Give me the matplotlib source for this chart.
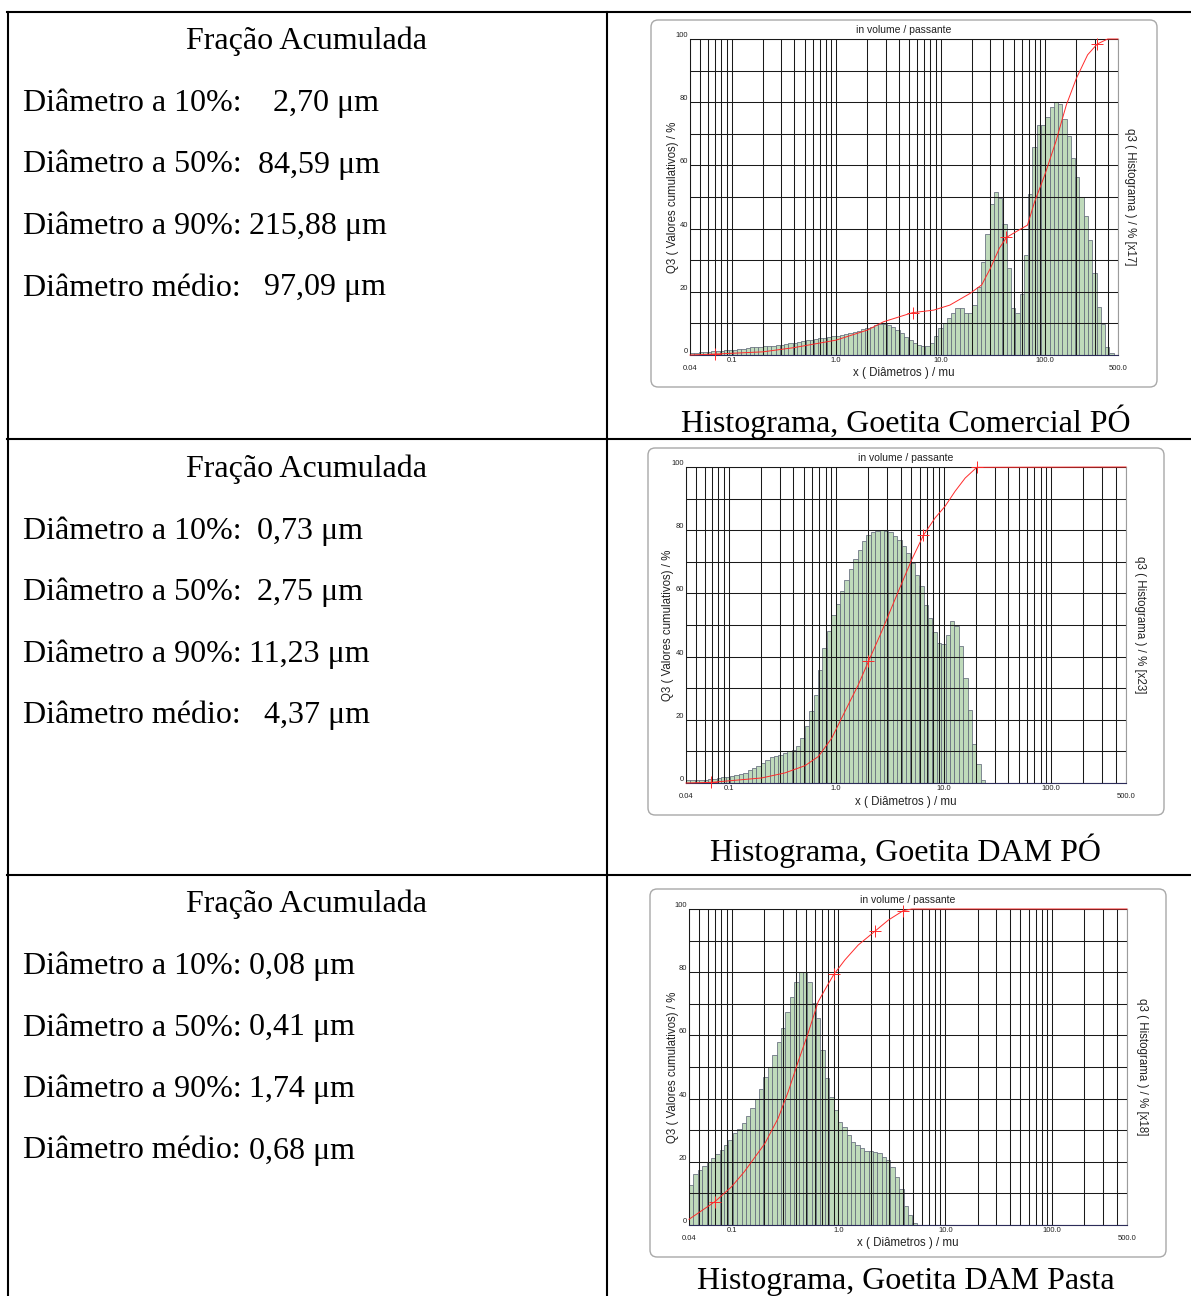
import numpy as np
import matplotlib
matplotlib.use("Agg")
import matplotlib.pyplot as plt
from matplotlib.lines import Line2D
from matplotlib.patches import FancyBboxPatch
from matplotlib.ticker import LogLocator, NullFormatter
from matplotlib.transforms import blended_transform_factory

W, H = 1191, 1296

# size classes of the granulometer (log spaced, 0.04 .. 500 um)
x_min, x_max = 0.04, 500.0
n_classes = 100

# histogram heights, read on the left (Q3) scale
hist_comercial = [0.5, 0.7, 0.9, 1.0, 1.1, 1.2, 1.3, 1.4, 1.5, 1.6, 1.7, 1.8, 2.0, 2.2, 2.4,
                  2.5, 2.6, 2.7, 2.8, 3.0, 3.1, 3.3, 3.5, 3.7, 3.9, 4.1, 4.4, 4.6, 4.8, 5.1,
                  5.3, 5.5, 5.7, 5.9, 6.1, 6.4, 6.7, 7.0, 7.3, 7.7, 8.1, 8.5, 9.0, 9.5,
                  9.8, 9.8, 9.4, 8.8, 7.9, 6.9, 5.8, 4.7, 3.8, 3.1, 3.0, 3.0, 3.9, 6.0, 8.6,
                  10.2, 11.6, 13.4, 14.8, 14.8, 13.4, 13.2,
                  15.8, 21.6, 29.5, 38.3, 47.7, 51.7, 49.8, 41.4, 27.4, 14.8, 13.2, 19.2,
                  31.6, 51.0, 65.7, 72.8, 72.8, 75.2, 78.6, 80.2, 79.5, 74.6, 69.3, 62.4,
                  56.2, 50.1, 44.1, 36.4, 25.8, 15.3, 9.8, 2.4, 0.5]
hist_dam_po = [0.8, 1.0, 1.0, 1.1, 1.1, 1.2, 1.3, 1.5, 1.8, 2.0,
               2.2, 2.5, 2.9, 3.3, 4.2, 4.8, 5.3, 6.3, 7.4, 8.1, 8.6,
               9.0, 9.5, 10.2, 10.5, 11.6, 14.2, 17.9, 22.7, 28.0, 35.9,
               42.7, 48.2, 53.3, 56.6, 60.7, 64.1, 67.7, 70.9, 73.8, 76.5,
               78.4, 79.3, 79.9, 80.2, 79.9, 79.4, 78.1, 76.8, 75.1, 72.8,
               69.6, 65.9, 62.2, 56.4, 52.2, 47.8, 44.3, 44.1, 46.7, 51.4,
               49.6, 43.2, 33.2, 23.2, 12.4, 6.1, 1.0]
hist_dam_pasta = [12.7, 16.1, 17.4, 18.7, 20.0, 21.1, 22.5, 23.7, 25.3, 26.9, 29.0, 30.3,
                  32.2, 34.5, 37.1, 39.9, 43.0, 46.7, 50.1, 53.8, 58.0, 62.4, 67.5, 72.2,
                  77.0, 80.2, 80.0, 77.0, 70.2, 65.4, 55.4, 46.4, 40.6, 36.4, 32.7, 31.1,
                  28.5, 26.4, 25.3, 24.3, 23.5, 23.4, 23.2, 22.9, 21.6, 20.6, 18.5, 15.3,
                  11.3, 6.0, 3.2, 0.5]

# cumulative curves (Q3, %)
cum_comercial_x = [0.04, 0.07, 0.2, 0.39, 1.0, 2.0, 2.84, 5.4, 8.6, 12.3, 19.2, 24.8, 30,
                   36.6, 42.8, 54, 68, 79.6, 99.6, 127, 160, 200, 256, 316, 398, 500]
cum_comercial_y = [0, 0.3, 1.0, 2.3, 4.7, 7.9, 10.5, 13.4, 14.2, 15.8, 19.5, 22.2, 27.4,
                   33.8, 37.2, 39.2, 41.1, 48.5, 57, 67.5, 79.1, 87.6, 95, 98.4, 100, 100]
cum_dam_po_x = [0.04, 0.069, 0.203, 0.334, 0.514, 0.684, 0.91, 1.21, 1.61, 2.0, 2.66, 3.8,
                5.06, 6.5, 8.35, 10.35, 12.8, 15.9, 20.4, 500]
cum_dam_po_y = [0, 0.2, 1.6, 3.2, 5.5, 8.4, 14.2, 22.7, 31.1, 38.5, 48, 60.7,
                70.7, 78.4, 83.9, 87.6, 92.3, 96.5, 99.9, 100]
cum_dam_pasta_x = [0.04, 0.07, 0.1, 0.132, 0.205, 0.273, 0.339, 0.42, 0.52, 0.647, 0.775,
                   0.906, 1.15, 1.53, 2.2, 2.93, 4.05, 4.85, 500]
cum_dam_pasta_y = [1.8, 7.4, 12.1, 16.9, 25.8, 33.8, 42.2, 51.7, 60.7, 70.7, 75.4,
                   79.3, 83.9, 88.6, 93, 96.5, 99.5, 100, 100]

# "+" marks on the curves
mark_comercial_x = [0.07, 5.4, 42.8, 316]
mark_comercial_y = [0.3, 13.4, 37.2, 98.4]
mark_dam_po_x = [0.069, 2.0, 6.5, 20.4]
mark_dam_po_y = [0.2, 38.5, 78.4, 100]
mark_dam_pasta_x = [0.07, 0.906, 2.2, 4.05]
mark_dam_pasta_y = [7.4, 79.3, 93, 99.5]

samples = ["Goetita Comercial PÓ", "Goetita DAM PÓ", "Goetita DAM Pasta"]
hist_factor = ["x17", "x23", "x18"]
row_labels = ["Diâmetro a 10%:", "Diâmetro a 50%:", "Diâmetro a 90%:", "Diâmetro médio:"]
values_comercial = ["2,70", "84,59", "215,88", "97,09"]
values_dam_po = ["0,73", "2,75", "11,23", "4,37"]
values_dam_pasta = ["0,08", "0,41", "1,74", "0,68"]

rows = [
    dict(hist=hist_comercial, cx=cum_comercial_x, cy=cum_comercial_y,
         mx=mark_comercial_x, my=mark_comercial_y, vals=values_comercial,
         top=12, frame=(651, 20, 1157, 387), axes=(690, 39, 1118, 355),
         title=(904, 30), xlab=(904, 373), ylab_l=673, ylab_r=1130, cap_y=432,
         val_x=[273, 258, 249, 264]),
    dict(hist=hist_dam_po, cx=cum_dam_po_x, cy=cum_dam_po_y,
         mx=mark_dam_po_x, my=mark_dam_po_y, vals=values_dam_po,
         top=440, frame=(648, 448, 1164, 815), axes=(686, 467, 1126, 783),
         title=(906, 458), xlab=(906, 802), ylab_l=668, ylab_r=1140, cap_y=861,
         val_x=[257, 257, 249, 264]),
    dict(hist=hist_dam_pasta, cx=cum_dam_pasta_x, cy=cum_dam_pasta_y,
         mx=mark_dam_pasta_x, my=mark_dam_pasta_y, vals=values_dam_pasta,
         top=875, frame=(650, 889, 1166, 1257), axes=(689, 909, 1127, 1225),
         title=(908, 900), xlab=(908, 1243), ylab_l=673, ylab_r=1142, cap_y=1289,
         val_x=[249, 249, 249, 249]),
]

SERIF = "Liberation Serif"
SANS = "Liberation Sans"


def fx(x):
    return x / W


def fy(y):
    return 1 - y / H


fig = plt.figure(figsize=(W / 100, H / 100), dpi=100)


def hline(x0, x1, y):
    fig.add_artist(Line2D([fx(x0), fx(x1)], [fy(y), fy(y)], color="black", lw=1.5))


def vline(x, y0, y1):
    fig.add_artist(Line2D([fx(x), fx(x)], [fy(y0), fy(y1)], color="black", lw=1.5))


# table grid
hline(7, W, 12)
hline(7, W, 439)
hline(7, W, 875)
vline(8, 12, H)
vline(607, 12, H)

edges = np.geomspace(x_min, x_max, n_classes + 1)

for i, r in enumerate(rows):
    # left cell text
    t = r["top"]
    fig.text(fx(307), fy(t + 37), "Fração Acumulada", family=SERIF, fontsize=23,
             ha="center", va="baseline")
    for k, (lab, val) in enumerate(zip(row_labels, r["vals"])):
        yb = t + 99 + k * 61.5
        fig.text(fx(23), fy(yb), lab, family=SERIF, fontsize=23, ha="left", va="baseline")
        fig.text(fx(r["val_x"][k]), fy(yb), val + " μm", family=SERIF, fontsize=23,
                 ha="left", va="baseline")

    # chart frame
    x0, y0, x1, y1 = r["frame"]
    frame = FancyBboxPatch((fx(x0), fy(y1)), fx(x1 - x0), (y1 - y0) / H,
                           boxstyle="round,pad=0,rounding_size=0.006",
                           mutation_aspect=W / H, transform=fig.transFigure,
                           facecolor="white", edgecolor="#a8a8a8", lw=1.0, zorder=0)
    fig.add_artist(frame)

    a0, b0, a1, b1 = r["axes"]
    ax = fig.add_axes([fx(a0), fy(b1), fx(a1 - a0), (b1 - b0) / H])
    ax.set_xscale("log")
    ax.set_xlim(x_min, x_max)
    ax.set_ylim(0, 100)
    n = len(r["hist"])
    ax.bar(edges[:n], r["hist"], width=np.diff(edges)[:n], align="edge",
           color="#bfdabb", edgecolor="#646b7c", linewidth=0.55, zorder=1)
    ax.plot(r["cx"], r["cy"], color="#ff2a2a", lw=0.7, zorder=4, clip_on=False)
    ax.plot(r["mx"], r["my"], ls="none", marker="+", ms=9, mew=0.7,
            color="#ff2a2a", zorder=4, clip_on=False)

    ax.set_xticks([0.1, 1, 10, 100], labels=["0.1", "1.0", "10.0", "100.0"])
    ax.xaxis.set_minor_locator(LogLocator(base=10, subs=np.arange(2, 10), numticks=50))
    ax.xaxis.set_minor_formatter(NullFormatter())
    ax.set_yticks([0, 20, 40, 60, 80, 100])
    ax.set_yticks([10, 30, 50, 70, 90], minor=True)
    ax.set_axisbelow(False)
    ax.grid(which="both", color="#1a1a1a", lw=0.75)
    ax.tick_params(which="both", length=0, labelsize=5.5, pad=1.2, colors="#222222")
    for lbl in ax.get_xticklabels() + ax.get_yticklabels():
        lbl.set_family(SANS)
    for lbl in ax.get_yticklabels():
        lbl.set_verticalalignment("bottom")
    for s in ["left", "right", "top"]:
        ax.spines[s].set_color("#9c9c9c")
        ax.spines[s].set_linewidth(0.8)
    ax.spines["bottom"].set_color("#2c2c5a")
    ax.spines["bottom"].set_linewidth(0.8)

    tr = blended_transform_factory(ax.transData, ax.transAxes)
    ax.text(x_min, -0.031, "0.04", transform=tr, ha="center", va="top",
            fontsize=5.5, family=SANS, color="#222222")
    ax.text(x_max, -0.031, "500.0", transform=tr, ha="center", va="top",
            fontsize=5.5, family=SANS, color="#222222")

    fig.text(fx(r["title"][0]), fy(r["title"][1]), "in volume / passante", family=SANS,
             fontsize=7.5, ha="center", va="center", color="#222222")
    fig.text(fx(r["xlab"][0]), fy(r["xlab"][1]), "x ( Diâmetros ) / mu", family=SANS,
             fontsize=8.3, ha="center", va="center", color="#222222")
    ymid = (b0 + b1) / 2
    fig.text(fx(r["ylab_l"]), fy(ymid), "Q3 ( Valores cumulativos) / %", family=SANS,
             fontsize=8.3, ha="center", va="center", rotation=90, color="#222222")
    fig.text(fx(r["ylab_r"]), fy(ymid), "q3 ( Histograma ) / % [" + hist_factor[i] + "]",
             family=SANS, fontsize=8.3, ha="center", va="center", rotation=270,
             color="#222222")

    fig.text(fx(906), fy(r["cap_y"]), "Histograma, " + samples[i], family=SERIF,
             fontsize=23, ha="center", va="baseline")

fig.savefig("out.png", dpi=100, facecolor="white")
